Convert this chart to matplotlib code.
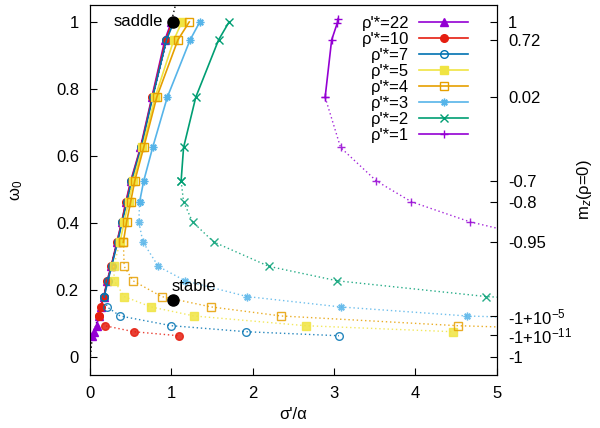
import matplotlib
matplotlib.use('Agg')
import matplotlib.pyplot as plt

# omega_0 levels shared by the curves (upper part of the branches)
rho22_x = [1.0, 0.92, 0.76, 0.62, 0.50, 0.44, 0.39, 0.33, 0.26, 0.21, 0.17, 0.13, 0.11, 0.08, 0.05, 0.03]
rho22_w = [1.0, 0.946, 0.775, 0.625, 0.525, 0.463, 0.403, 0.343, 0.27, 0.227, 0.18, 0.149, 0.122, 0.093, 0.075, 0.063]

rho10_x = [1.01, 0.93, 0.765, 0.625, 0.505, 0.445, 0.39, 0.335, 0.26, 0.215, 0.17, 0.135, 0.115]
rho10_w = [1.0, 0.946, 0.775, 0.625, 0.525, 0.463, 0.403, 0.343, 0.27, 0.227, 0.18, 0.149, 0.122]
rho10_dx = [0.115, 0.18, 0.54, 1.09]
rho10_dw = [0.122, 0.093, 0.075, 0.063]

rho7_x = [1.03, 0.94, 0.77, 0.63, 0.51, 0.455, 0.395, 0.34, 0.265, 0.22, 0.175]
rho7_w = [1.0, 0.946, 0.775, 0.625, 0.525, 0.463, 0.403, 0.343, 0.27, 0.227, 0.18]
rho7_dx = [0.175, 0.21, 0.37, 1.0, 1.92, 3.06]
rho7_dw = [0.18, 0.149, 0.122, 0.093, 0.075, 0.063]

rho5_x = [1.13, 1.03, 0.80, 0.645, 0.53, 0.475, 0.42, 0.37]
rho5_w = [1.0, 0.946, 0.775, 0.625, 0.525, 0.463, 0.403, 0.343]
rho5_dx = [0.37, 0.29, 0.30, 0.42, 0.75, 1.28, 2.65, 4.46]
rho5_dw = [0.343, 0.27, 0.227, 0.18, 0.149, 0.122, 0.093, 0.075]

rho4_x = [1.22, 1.08, 0.82, 0.66, 0.55, 0.50, 0.45, 0.41]
rho4_w = [1.0, 0.946, 0.775, 0.625, 0.525, 0.463, 0.403, 0.343]
rho4_dx = [0.41, 0.42, 0.53, 0.88, 1.49, 2.35, 4.52, 5.6]
rho4_dw = [0.343, 0.27, 0.227, 0.18, 0.149, 0.122, 0.093, 0.085]

rho3_x = [1.35, 1.23, 0.95, 0.77, 0.66, 0.61]
rho3_w = [1.0, 0.946, 0.775, 0.625, 0.525, 0.463]
rho3_dx = [0.61, 0.60, 0.65, 0.84, 1.17, 1.93, 3.08, 4.63, 5.6]
rho3_dw = [0.463, 0.403, 0.343, 0.27, 0.227, 0.18, 0.149, 0.122, 0.115]

rho2_x = [1.71, 1.58, 1.30, 1.15, 1.12]
rho2_w = [1.0, 0.946, 0.775, 0.625, 0.525]
rho2_dx = [1.12, 1.15, 1.26, 1.52, 2.2, 3.04, 4.87, 5.6]
rho2_dw = [0.525, 0.463, 0.403, 0.343, 0.27, 0.227, 0.18, 0.17]

rho1_x = [3.05, 3.04, 2.97, 2.89]
rho1_w = [1.01, 0.997, 0.946, 0.775]
rho1_dx = [2.89, 3.08, 3.52, 3.95, 4.67, 5.6]
rho1_dw = [0.775, 0.625, 0.525, 0.463, 0.403, 0.35]

# black dotted boundary
bound_x = [0.0, 0.005, 0.02, 0.05, 0.1, 0.2, 0.5, 1.0, 1.06]
bound_w = [-0.06, 0.0, 0.04, 0.075, 0.12, 0.215, 0.51, 1.0, 1.06]

saddle = (1.02, 1.0)
stable = (1.02, 0.17)

# right axis: m_z(rho=0) labels at omega_0 levels
mz_pos = [1.0, 0.946, 0.775, 0.525, 0.463, 0.343, 0.122, 0.066, 0.0]
mz_labels = ['1', '0.72', '0.02', '-0.7', '-0.8', '-0.95',
             '-1+10$^{-5}$', '-1+10$^{-11}$', '-1']

plt.rcParams['font.family'] = ['Liberation Sans', 'DejaVu Sans']
plt.rcParams['mathtext.fontset'] = 'custom'
plt.rcParams['mathtext.rm'] = 'Liberation Sans'
plt.rcParams['mathtext.it'] = 'Liberation Sans:italic'
plt.rcParams['font.size'] = 12

fig = plt.figure(figsize=(6.0, 4.28), dpi=100)
ax = fig.add_axes([0.15, 0.124, 0.678, 0.864])

series = [
    ('ρ\'*=22', '#9400d3', '^', True, rho22_x, rho22_w, None, None),
    ('ρ\'*=10', '#e51e10', 'o', True, rho10_x, rho10_w, rho10_dx, rho10_dw),
    ('ρ\'*=7', '#0072b2', 'o', False, rho7_x, rho7_w, rho7_dx, rho7_dw),
    ('ρ\'*=5', '#f0e442', 's', True, rho5_x, rho5_w, rho5_dx, rho5_dw),
    ('ρ\'*=4', '#e69f00', 's', False, rho4_x, rho4_w, rho4_dx, rho4_dw),
    ('ρ\'*=3', '#56b4e9', (8, 2, 0), True, rho3_x, rho3_w, rho3_dx, rho3_dw),
    ('ρ\'*=2', '#009e73', 'x', True, rho2_x, rho2_w, rho2_dx, rho2_dw),
    ('ρ\'*=1', '#9400d3', '+', True, rho1_x, rho1_w, rho1_dx, rho1_dw),
]

ax.plot(bound_x, bound_w, color='black', linestyle=(0, (1, 2)), linewidth=1.0)

for label, col, mk, filled, x, w, dx, dw in series:
    fc = col if filled else 'none'
    ax.plot(x, w, '-', color=col, marker=mk, markersize=5.5, markerfacecolor=fc,
            markeredgecolor=col, linewidth=1.2, label=label)
    if dx is not None:
        ax.plot(dx, dw, color=col, linestyle=(0, (1, 2)), marker=mk, markersize=5.5,
                markerfacecolor=fc, markeredgecolor=col, linewidth=1.0, alpha=0.85)

ax.plot(*saddle, 'o', color='black', markersize=8)
ax.plot(*stable, 'o', color='black', markersize=8)
ax.text(0.90, 1.0, 'saddle', ha='right', va='center', fontsize=12)
ax.text(1.0, 0.209, 'stable', ha='left', va='center', fontsize=12)

ax.set_xlim(0, 5)
ax.set_ylim(-0.054, 1.05)
ax.set_xticks([0, 1, 2, 3, 4, 5])
ax.set_yticks([0, 0.2, 0.4, 0.6, 0.8, 1])
ax.set_yticklabels(['0', '0.2', '0.4', '0.6', '0.8', '1'])
ax.tick_params(direction='in', length=5, top=False, right=False, labelsize=12, pad=8)
ax.set_xlabel("σ'/α", fontsize=12)
ax.set_ylabel('ω$_0$', fontsize=12, labelpad=22)

ax2 = ax.twinx()
ax2.set_ylim(ax.get_ylim())
ax2.set_yticks(mz_pos)
ax2.set_yticklabels(mz_labels)
ax2.tick_params(direction='in', length=5, labelsize=12, pad=8)
ax2.set_ylabel('m$_z$(ρ=0)', fontsize=12, labelpad=2)
ax2.set_position(ax.get_position())

ax.legend(loc='upper right', bbox_to_anchor=(0.945, 0.99), frameon=False,
          markerfirst=False, numpoints=1, handlelength=2.9, handletextpad=0.6,
          labelspacing=0.06, fontsize=12, borderaxespad=0)

fig.savefig('out.png', dpi=100)
